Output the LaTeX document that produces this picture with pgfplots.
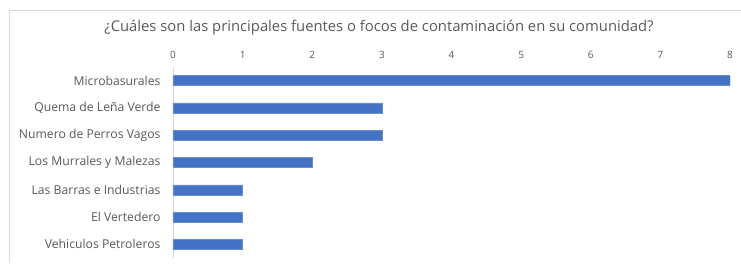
\documentclass[border=0pt]{standalone}
\usepackage{pgfplots}
\pgfplotsset{compat=1.18}
\usepackage{fontspec}
\setmainfont{Open Sans}
\definecolor{barblue}{HTML}{4472C4}
\definecolor{txtgray}{HTML}{595959}
\definecolor{framegray}{HTML}{D9D9D9}
\begin{document}
\begin{tikzpicture}[x=1pt,y=1pt]
\path[use as bounding box] (0,0) rectangle (741,263);
\draw[framegray,line width=0.8pt] (9,0) -- (9,253) -- (741,253);
\node[txtgray,font=\fontsize{14.8}{16}\selectfont] at (379,235) {¿Cuáles son las principales fuentes o focos de contaminación en su comunidad?};
\begin{axis}[
  at={(173pt,5pt)}, anchor=south west,
  scale only axis, width=557pt, height=191pt,
  xbar, bar width=10pt,
  xmin=0, xmax=8, ymin=-0.5, ymax=6.5,
  y dir=reverse,
  axis x line*=top, axis y line*=left,
  x axis line style={draw=none},
  y axis line style={draw=framegray, line width=0.8pt, -},
  xtick={0,1,2,3,4,5,6,7,8},
  ytick={0,1,2,3,4,5,6},
  yticklabels={Microbasurales,Quema de Leña Verde,Numero de Perros Vagos,Los Murrales y Malezas,Las Barras e Industrias,El Vertedero,Vehiculos Petroleros},
  major tick length=0pt,
  /pgf/number format/assume math mode=true,
  xticklabel style={font=\fontsize{10}{12}\selectfont, text=txtgray},
  yticklabel style={font=\fontsize{12.2}{13}\selectfont, text=txtgray, xshift=-9pt},
  xticklabel shift=5pt,
]
\addplot[fill=barblue, draw=barblue!80!white] coordinates {(8,0) (3,1) (3,2) (2,3) (1,4) (1,5) (1,6)};
\end{axis}
\end{tikzpicture}
\end{document}
